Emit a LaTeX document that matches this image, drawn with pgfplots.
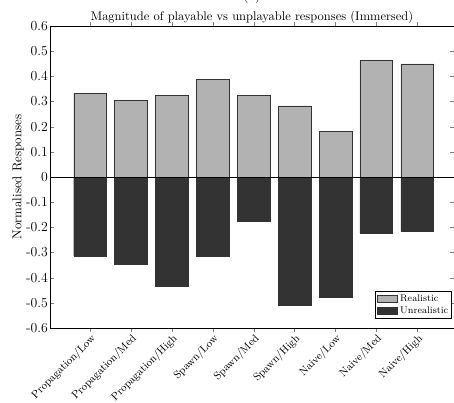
\documentclass[border=0pt]{standalone}
\usepackage{pgfplots}
\pgfplotsset{compat=1.18}
\definecolor{realc}{gray}{0.70}
\definecolor{unrealc}{gray}{0.20}
\begin{document}
\begin{tikzpicture}
\begin{axis}[
  name=ax,
  scale only axis,
  width=336.7pt, height=251.7pt,
  xmin=-0.98, xmax=8.9,
  ymin=-0.6, ymax=0.6,
  ytick={-0.6,-0.5,-0.4,-0.3,-0.2,-0.1,0,0.1,0.2,0.3,0.4,0.5,0.6},
  /pgf/number format/assume math mode=true,
  yticklabel style={/pgf/number format/fixed, /pgf/number format/precision=1,
     font=\fontsize{11.5}{13}\selectfont, inner sep=1.5pt},
  xtick={0,1,2,3,4,5,6,7,8},
  xticklabels={Propagation/Low,Propagation/Med,Propagation/High,Spawn/Low,Spawn/Med,Spawn/High,Naive/Low,Naive/Med,Naive/High},
  xticklabel style={rotate=45, anchor=north east, font=\small, inner sep=0.8pt},
  tick align=inside,
  major tick length=3pt,
  ylabel={Normalised Responses},
  ylabel style={at={(axis description cs:-0.079,0.5)}, anchor=center, font=\fontsize{10.7}{12}\selectfont},
  title={Magnitude of playable vs unplayable responses (Immersed)},
  title style={yshift=-7.5pt, font=\fontsize{10.4}{12}\selectfont},
  ybar, bar width=0.8, bar shift=0pt,
  legend style={at={(0.995,0.03)}, anchor=south east, font=\footnotesize, draw=black, inner sep=1pt, row sep=-1pt},
  legend cell align=left,
  area legend,
]
\addplot[fill=realc, draw=black!80] coordinates {
 (0,0.332) (1,0.304) (2,0.324) (3,0.389) (4,0.325) (5,0.283) (6,0.181) (7,0.463) (8,0.450)};
\addlegendentry{Realistic}
\addplot[fill=unrealc, draw=black!80] coordinates {
 (0,-0.314) (1,-0.348) (2,-0.436) (3,-0.315) (4,-0.175) (5,-0.511) (6,-0.478) (7,-0.222) (8,-0.216)};
\addlegendentry{Unrealistic}
\draw[black] (axis cs:-0.98,0) -- (axis cs:8.9,0);
\end{axis}
\node[anchor=south, font=\fontsize{10.4}{12}\selectfont] at ([yshift=15pt]ax.north) {(b)};
\pgfresetboundingbox
\useasboundingbox ([xshift=-41.7pt, yshift=-61.7pt]ax.south west) rectangle ([yshift=21.7pt]ax.north east);
\end{tikzpicture}
\end{document}
